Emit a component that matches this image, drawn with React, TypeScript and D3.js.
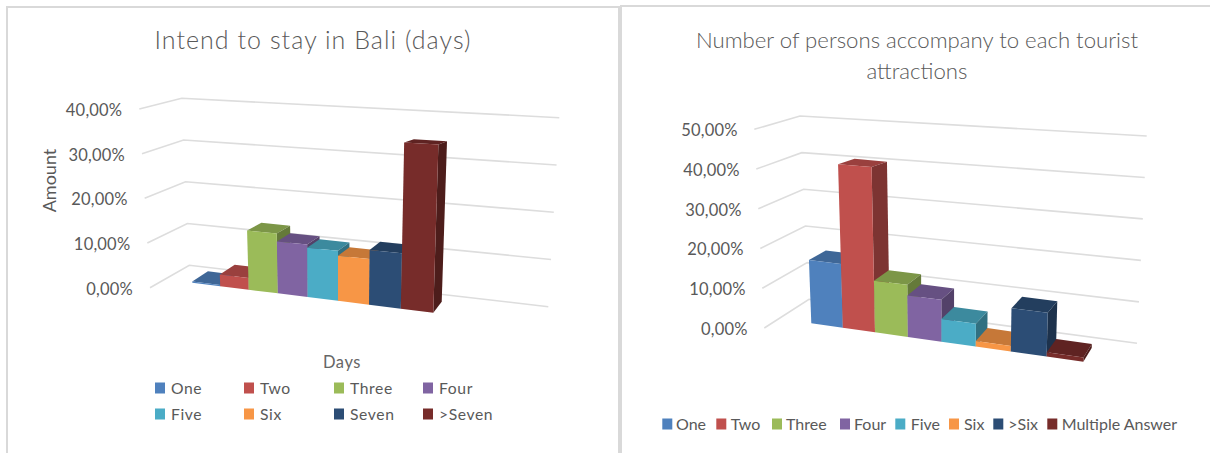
import React from "react";
import * as d3 from "d3";

const palette = ["#4F81BD", "#C0504D", "#9BBB59", "#8064A2", "#4BACC6", "#F79646", "#2C4D75", "#772C2A"];

const stayCategories = ["One", "Two", "Three", "Four", "Five", "Six", "Seven", ">Seven"];
const stayValues = [0.3, 2.7, 13.6, 11.8, 11.1, 10, 12, 36];
const stayTicks = [0, 10, 20, 30, 40];

const companyCategories = ["One", "Two", "Three", "Four", "Five", "Six", ">Six", "Multiple Answer"];
const companyValues = [16, 41, 12.8, 10.2, 5.5, 1.3, 10.3, 1];
const companyTicks = [0, 10, 20, 30, 40, 50];

type Pt = [number, number];

interface Scene {
  categories: string[];
  values: number[];
  ticks: number[];
  // gridline endpoints at the lowest and highest tick
  wallFront: [Pt, Pt];
  wallCorner: [Pt, Pt];
  wallRight: [Pt, Pt];
  // footprint of the bar row on the floor
  frontLeft: Pt;
  frontRight: Pt;
  backLeft: Pt;
  backRight: Pt;
  pxPerUnit: [number, number];
  lean: number;
  leanOrigin: number;
  labelGap: number;
}

const stayScene: Scene = {
  categories: stayCategories,
  values: stayValues,
  ticks: stayTicks,
  wallFront: [[150, 287.7], [139.3, 109]],
  wallCorner: [[189.3, 265.3], [181.7, 98.3]],
  wallRight: [[548.3, 306.7], [559.3, 117.7]],
  frontLeft: [192.3, 282.7],
  frontRight: [433.3, 312.7],
  backLeft: [208, 272.5],
  backRight: [441.7, 301.7],
  pxPerUnit: [4.25, 4.67],
  lean: 3.18e-4,
  leanOrigin: 337.7,
  labelGap: 17,
};

const companyScene: Scene = {
  categories: companyCategories,
  values: companyValues,
  ticks: companyTicks,
  wallFront: [[764.3, 328], [754.3, 129.3]],
  wallCorner: [[809, 299.3], [800, 116]],
  wallRight: [[1137, 343.3], [1146.7, 136]],
  frontLeft: [811.3, 323.3],
  frontRight: [1083.3, 361.7],
  backLeft: [827.8, 310.8],
  backRight: [1091.7, 348],
  pxPerUnit: [3.95, 4.3],
  lean: 2.64e-4,
  leanOrigin: 953,
  labelGap: 16.6,
};

const FONT = "Lato, 'Open Sans', sans-serif";
const INK = "#595959";
const GRID = "#DDDDDD";
const FRAME = "#D9D9D9";
const DEPTH_SHRINK = 0.955;

const shade = (hex: string, k: number) => {
  const c = d3.rgb(hex);
  return d3.rgb(c.r * k, c.g * k, c.b * k).formatHex();
};

function Bars3D({ scene }: { scene: Scene }) {
  const n = scene.categories.length;
  const maxTick = d3.max(scene.ticks) as number;
  const minTick = d3.min(scene.ticks) as number;
  const along = (t: number) => t / (t + 1.09 * (1 - t));
  const slot = d3.scaleLinear().domain([0, n]).range([0, 1]);

  const project = (i: number, depth: number, value: number): Pt => {
    const u = along(slot(i));
    const fx = d3.interpolateNumber(scene.frontLeft[0], scene.frontRight[0])(u);
    const fy = d3.interpolateNumber(scene.frontLeft[1], scene.frontRight[1])(u);
    const bx = d3.interpolateNumber(scene.backLeft[0], scene.backRight[0])(u);
    const by = d3.interpolateNumber(scene.backLeft[1], scene.backRight[1])(u);
    const x = fx + (bx - fx) * depth;
    const y = fy + (by - fy) * depth;
    const unit = d3.interpolateNumber(scene.pxPerUnit[0], scene.pxPerUnit[1])(u) * (1 - (1 - DEPTH_SHRINK) * depth);
    const h = value * unit;
    return [x + scene.lean * (x - scene.leanOrigin) * h, y - h];
  };

  const wall = (pair: [Pt, Pt], axis: 0 | 1) =>
    d3.scaleLinear().domain([minTick, maxTick]).range([pair[0][axis], pair[1][axis]]);
  const frontX = wall(scene.wallFront, 0);
  const frontY = wall(scene.wallFront, 1);
  const cornerX = wall(scene.wallCorner, 0);
  const cornerY = wall(scene.wallCorner, 1);
  const rightX = wall(scene.wallRight, 0);
  const rightY = wall(scene.wallRight, 1);
  const gridLine = d3.line<Pt>();
  const face = (pts: Pt[]) => (d3.line<Pt>()(pts) as string) + "Z";
  const tickText = (t: number) => d3.format(".2f")(t).replace(".", ",") + "%";

  return (
    <g>
      {scene.ticks.map((t) => (
        <g key={t}>
          <path
            d={gridLine([[frontX(t), frontY(t)], [cornerX(t), cornerY(t)], [rightX(t), rightY(t)]]) as string}
            fill="none"
            stroke={GRID}
            strokeWidth={1.6}
          />
          <text
            x={frontX(t) - scene.labelGap}
            y={frontY(t)}
            dy="0.42em"
            textAnchor="end"
            fontSize={16.5}
            fontFamily={FONT}
            fill={INK}
            style={{ letterSpacing: "0.2px" }}
          >
            {tickText(t)}
          </text>
        </g>
      ))}
      {scene.values.map((v, i) => {
        const color = palette[i];
        const top = [project(i, 0, v), project(i + 1, 0, v), project(i + 1, 1, v), project(i, 1, v)];
        const side = [project(i + 1, 0, 0), project(i + 1, 1, 0), project(i + 1, 1, v), project(i + 1, 0, v)];
        const front = [project(i, 0, 0), project(i + 1, 0, 0), project(i + 1, 0, v), project(i, 0, v)];
        return (
          <g key={scene.categories[i]}>
            <path d={face(top)} fill={shade(color, 0.8)} />
            <path d={face(side)} fill={shade(color, 0.65)} />
            <path d={face(front)} fill={color} />
          </g>
        );
      })}
    </g>
  );
}

const Swatch = ({ x, y, color }: { x: number; y: number; color: string }) => (
  <rect x={x} y={y - 5.5} width={10} height={11} fill={color} />
);

const legendText = {
  fontFamily: FONT,
  fill: INK,
};

const stayLegendColumns = [155, 244, 334, 423];
const stayLegendRows = [388, 414];
const stayLegendBaselineShift = 1;
const companyLegendSwatches = [662.3, 716.3, 772, 840, 895.3, 949, 993.3, 1047.3];
const companyLegendLabels = [676, 730.7, 786, 854, 910.7, 964, 1008.3, 1061.7];

export default function App() {
  return (
    <svg
      width={1210}
      height={453}
      viewBox="0 0 1210 453"
      style={{ position: "absolute", left: 0, top: 0, display: "block", background: "#fff" }}
    >
      <g fill="none" stroke={FRAME}>
        <path d="M7,453V7H618" strokeWidth={2} />
        <path d="M620,453V6" strokeWidth={4} />
        <path d="M620,6H1210" strokeWidth={2} />
      </g>

      <text x={313} y={49} textAnchor="middle" fontSize={25} fontWeight={300} fontFamily={FONT} fill={INK} style={{ letterSpacing: "1.05px" }}>
        Intend to stay in Bali (days)
      </text>
      <text x={50} y={180.5} textAnchor="middle" fontSize={18} fontFamily={FONT} fill={INK} transform="rotate(-90 50 180.5)" dy="0.35em">
        Amount
      </text>
      <text x={342} y={368} textAnchor="middle" fontSize={16.5} fontFamily={FONT} fill="#666666" style={{ letterSpacing: "0.6px" }}>
        Days
      </text>
      <Bars3D scene={stayScene} />
      {stayCategories.map((c, i) => {
        const x = stayLegendColumns[i % 4];
        const y = stayLegendRows[Math.floor(i / 4)];
        return (
          <g key={c}>
            <Swatch x={x} y={y} color={palette[i]} />
            <text x={x + 16} y={y + stayLegendBaselineShift} dy="0.35em" fontSize={15.7} {...legendText} style={{ letterSpacing: "0.6px" }}>
              {c}
            </text>
          </g>
        );
      })}

      <text x={917} y={48} textAnchor="middle" fontSize={22.2} fontWeight={300} fontFamily={FONT} fill={INK}>
        Number of persons accompany to each tourist
      </text>
      <text x={917} y={79} textAnchor="middle" fontSize={22.2} fontWeight={300} fontFamily={FONT} fill={INK}>
        attractions
      </text>
      <Bars3D scene={companyScene} />
      {companyCategories.map((c, i) => (
        <g key={c}>
          <Swatch x={companyLegendSwatches[i]} y={424} color={palette[i]} />
          <text x={companyLegendLabels[i]} y={424} dy="0.35em" fontSize={16} {...legendText}>
            {c}
          </text>
        </g>
      ))}
    </svg>
  );
}
